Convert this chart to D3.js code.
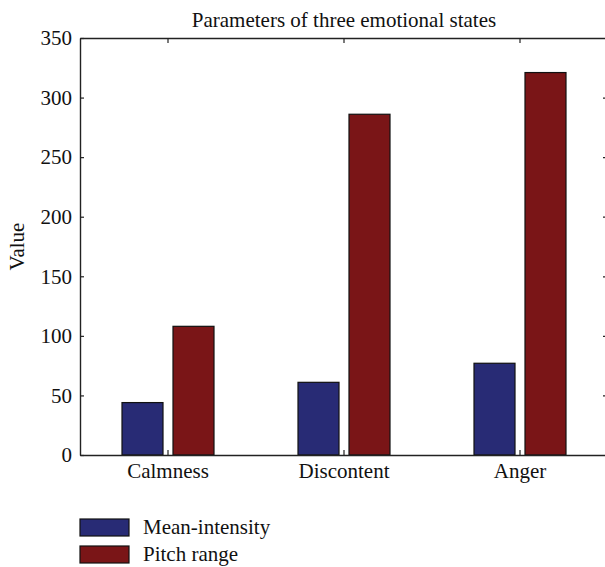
<!DOCTYPE html>
<html>
<head>
<meta charset="utf-8">
<script src="https://cdn.jsdelivr.net/npm/d3@7"></script>
<style>
	body { margin: 0; background: #fff; }
	svg text { font-family: "Liberation Serif", "DejaVu Serif", serif; fill: #111; }
</style>
</head>
<body>
<script>
// data
var categories = ["Calmness", "Discontent", "Anger"];
var seriesNames = ["Mean-intensity", "Pitch range"];
var meanIntensity = [44, 61, 77];
var pitchRange = [108, 286, 321];
var yTicks = [0, 50, 100, 150, 200, 250, 300, 350];
var colors = ["#282b75", "#7a1517"];

var seriesValues = [meanIntensity, pitchRange];

var svg = d3.select("body").append("svg")
	.attr("width", 605)
	.attr("height", 567);

// plot box (right edge falls just outside the picture)
var plotLeft = 80, plotRight = 608, plotTop = 38, plotBottom = 455;

var x = d3.scaleBand()
	.domain(categories)
	.range([plotLeft, plotRight])
	.padding(0);

var x1 = d3.scaleBand()
	.domain(seriesNames)
	.range([-46, 46])
	.paddingInner(0.196);

var y = d3.scaleLinear()
	.domain([0, 350])
	.range([plotBottom, plotTop]);

// bars
var groups = svg.selectAll("g.cat")
	.data(categories)
	.enter().append("g")
	.attr("class", "cat")
	.attr("transform", function(d){
		return "translate(" + (x(d) + x.bandwidth() / 2) + ",0)";
	});

groups.selectAll("rect")
	.data(function(d, i){
		return seriesNames.map(function(s, j){
			return {name: s, value: seriesValues[j][i], k: j};
		});
	})
	.enter().append("rect")
	.attr("x", function(d){ return x1(d.name); })
	.attr("width", x1.bandwidth())
	.attr("y", function(d){ return y(d.value); })
	.attr("height", function(d){ return plotBottom - y(d.value); })
	.attr("fill", function(d){ return colors[d.k]; })
	.attr("stroke", "#111")
	.attr("stroke-width", 1.2);

// axes
function styleAxis(g){
	g.selectAll("path.domain").attr("stroke", "#222").attr("stroke-width", 1.4);
	g.selectAll("line").attr("stroke", "#222").attr("stroke-width", 1.2);
	g.selectAll("text").attr("font-size", 21).attr("fill", "#111")
		.attr("font-family", "Liberation Serif, DejaVu Serif, serif");
}

svg.append("g")
	.attr("transform", "translate(" + plotLeft + ",0)")
	.call(d3.axisLeft(y).tickValues(yTicks).tickSizeInner(-4).tickSizeOuter(0).tickPadding(8))
	.call(styleAxis);

svg.append("g")
	.attr("transform", "translate(" + plotRight + ",0)")
	.call(d3.axisRight(y).tickValues(yTicks).tickSizeInner(-5).tickSizeOuter(0).tickFormat(""))
	.call(styleAxis);

svg.append("g")
	.attr("transform", "translate(0," + plotBottom + ")")
	.call(d3.axisBottom(x).tickSizeInner(-5).tickSizeOuter(0).tickPadding(8))
	.call(styleAxis);

svg.append("g")
	.attr("transform", "translate(0," + plotTop + ")")
	.call(d3.axisTop(x).tickSizeInner(-5).tickSizeOuter(0).tickFormat(""))
	.call(styleAxis);

// title
svg.append("text")
	.attr("x", (plotLeft + plotRight) / 2)
	.attr("y", 27)
	.attr("text-anchor", "middle")
	.attr("font-size", 21)
	.text("Parameters of three emotional states");

// y label
svg.append("text")
	.attr("transform", "translate(24," + ((plotTop + plotBottom) / 2) + ") rotate(-90)")
	.attr("text-anchor", "middle")
	.attr("font-size", 21)
	.text("Value");

// legend
var legend = svg.selectAll("g.legend")
	.data(seriesNames)
	.enter().append("g")
	.attr("class", "legend")
	.attr("transform", function(d, i){
		return "translate(80," + (519 + i * 27) + ")";
	});

legend.append("rect")
	.attr("width", 49)
	.attr("height", 17)
	.attr("fill", function(d, i){ return colors[i]; })
	.attr("stroke", "#111")
	.attr("stroke-width", 1.2);

legend.append("text")
	.attr("x", 63)
	.attr("y", 15)
	.attr("font-size", 21)
	.text(function(d){ return d; });
</script>
</body>
</html>
